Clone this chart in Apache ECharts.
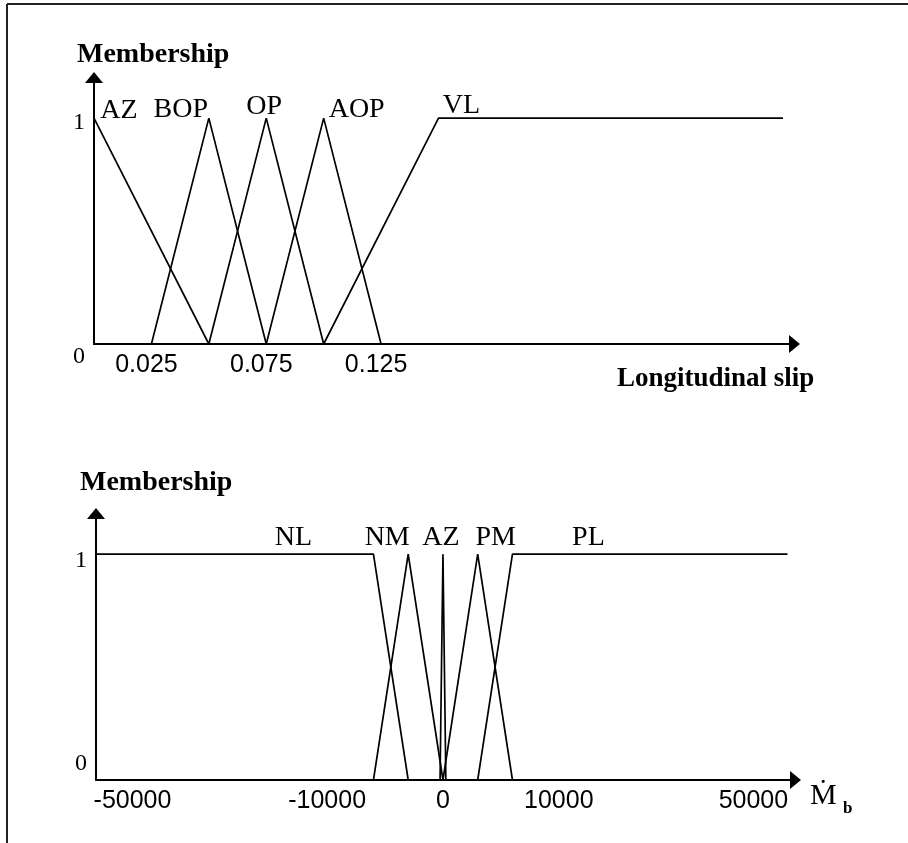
<!DOCTYPE html>
<html>
<head>
<meta charset="utf-8">
<script src="https://cdn.jsdelivr.net/npm/echarts@6/dist/echarts.min.js"></script>
<style>
  html, body { margin: 0; padding: 0; background: #fff; }
  #chart { width: 908px; height: 843px; }
</style>
</head>
<body>
<div id="chart"></div>
<script>
// upper plot: longitudinal slip fuzzy sets
const slipNames = ['AZ', 'BOP', 'OP', 'AOP', 'VL'];
const slipBreaks = [
  [0, 0.05],
  [0.025, 0.05, 0.075],
  [0.05, 0.075, 0.1],
  [0.075, 0.1, 0.125],
  [0.1, 0.15, 0.3]
];
const slipGrades = [
  [1, 0],
  [0, 1, 0],
  [0, 1, 0],
  [0, 1, 0],
  [0, 1, 1]
];
const slipTicks = [0.025, 0.075, 0.125];

// lower plot: braking moment rate fuzzy sets
const mbNames = ['NL', 'NM', 'AZ', 'PM', 'PL'];
const mbBreaks = [
  [-57500, -6000, -3000],
  [-6000, -3000, 0],
  [-250, 0, 250],
  [0, 3000, 6000],
  [3000, 6000, 57000]
];
const mbGrades = [
  [1, 1, 0],
  [0, 1, 0],
  [0, 1, 0],
  [0, 1, 0],
  [0, 1, 1]
];
const mbTicks = [-50000, -10000, 0, 10000, 50000];

const gradeTicks = [0, 1];

// where the set names sit relative to the middle point (px)
const slipNameShift = [[25, 7], [-28, 6], [-2, 3], [33, 6], [23, 2]];
const mbNameShift = [[-80, -2], [-21, -2], [-2, -2], [18, -2], [76, -2]];

// the drawing squeezes the axis beyond +-10000
const squeeze = 0.42;
function warp(v) {
  const a = Math.abs(v);
  return a <= 10000 ? v : Math.sign(v) * (10000 + (a - 10000) * squeeze);
}

const serif = '"Liberation Serif", "Times New Roman", serif';
const sans = '"Liberation Sans", Arial, sans-serif';

function makeSeries(names, breaks, grades, shifts, idx, mapX) {
  return names.map((name, i) => {
    const mid = grades[i].length > 2 ? 1 : 0;
    return {
      type: 'line',
      name: name,
      xAxisIndex: idx,
      yAxisIndex: idx,
      showSymbol: true,
      symbol: 'circle',
      symbolSize: 2,
      silent: true,
      animation: false,
      itemStyle: { color: 'rgba(0,0,0,0)', borderWidth: 0 },
      lineStyle: { color: '#000', width: 1.7 },
      data: breaks[i].map((x, j) => {
        const item = { value: [mapX(x), grades[i][j]] };
        if (j === mid) {
          item.label = {
            show: true,
            formatter: name,
            position: 'top',
            distance: 0,
            offset: shifts[i],
            fontFamily: serif,
            fontSize: 28,
            color: '#000'
          };
        }
        return item;
      })
    };
  });
}

function arrowLine() {
  return {
    show: true,
    onZero: false,
    symbol: ['none', 'triangle'],
    symbolSize: [18, 11],
    lineStyle: { color: '#000', width: 2 }
  };
}

function gradeAxis(idx, shiftOne, shiftZero) {
  const pad = s => (s >= 0 ? [2 * s, 0, 0, 0] : [0, 0, -2 * s, 0]);
  return {
    type: 'value',
    gridIndex: idx,
    min: 0,
    max: 1.18,
    axisLine: arrowLine(),
    axisTick: { show: false },
    splitLine: { show: false },
    axisLabel: {
      customValues: gradeTicks,
      margin: 9,
      color: '#000',
      fontFamily: serif,
      fontSize: 24,
      formatter: v => (v === 1 ? '{a|1}' : '{b|0}'),
      rich: {
        a: { fontFamily: serif, fontSize: 24, color: '#000', padding: pad(shiftOne) },
        b: { fontFamily: serif, fontSize: 24, color: '#000', padding: pad(shiftZero) }
      }
    }
  };
}

const titleFont = { fontFamily: serif, fontWeight: 'bold', fontSize: 28, color: '#000' };

const chart = echarts.init(document.getElementById('chart'));
const option = {
  backgroundColor: '#fff',
  animation: false,
  title: [
    { text: 'Membership', left: 77, top: 41, padding: 0, textStyle: titleFont },
    { text: 'Longitudinal slip', left: 617, top: 366, padding: 0, textStyle: Object.assign({}, titleFont, { fontSize: 27 }) },
    { text: 'Membership', left: 80, top: 469, padding: 0, textStyle: titleFont },
    { text: 'Ṁ', left: 810, top: 781, padding: 0, textStyle: { fontFamily: '"Liberation Serif", "DejaVu Serif", serif', fontSize: 30, fontWeight: 'normal', color: '#000' } },
    { text: 'b', left: 843, top: 800, padding: 0, textStyle: { fontFamily: serif, fontSize: 17, fontWeight: 'bold', color: '#000' } }
  ],
  graphic: [
    { type: 'line', shape: { x1: 7, y1: 4, x2: 908, y2: 4 }, style: { stroke: '#222', lineWidth: 2 } },
    { type: 'line', shape: { x1: 7, y1: 4, x2: 7, y2: 843 }, style: { stroke: '#222', lineWidth: 2 } }
  ],
  grid: [
    { left: 94, top: 77.5, width: 700.5, height: 266.5, outerBoundsMode: 'none' },
    { left: 96, top: 513.5, width: 699.5, height: 266.5, outerBoundsMode: 'none' }
  ],
  xAxis: [
    {
      type: 'value',
      gridIndex: 0,
      min: 0,
      max: 0.305,
      axisLine: arrowLine(),
      axisTick: { show: false },
      splitLine: { show: false },
      axisLabel: {
        customValues: slipTicks,
        margin: 9,
        color: '#000',
        fontFamily: sans,
        fontSize: 25,
        padding: [0, 10, 0, 0],
        formatter: v => String(v)
      }
    },
    {
      type: 'value',
      gridIndex: 1,
      min: warp(-57500),
      max: warp(58650),
      axisLine: arrowLine(),
      axisTick: { show: false },
      splitLine: { show: false },
      axisLabel: {
        customValues: mbTicks.map(warp),
        margin: 9,
        color: '#000',
        fontFamily: sans,
        fontSize: 25,
        formatter: v => {
          const t = mbTicks.find(k => Math.abs(warp(k) - v) < 1e-6);
          return t === undefined ? '' : String(t);
        }
      }
    }
  ],
  yAxis: [
    gradeAxis(0, 5, 13),
    gradeAxis(1, 7, -16)
  ],
  series: [].concat(
    makeSeries(slipNames, slipBreaks, slipGrades, slipNameShift, 0, x => x),
    makeSeries(mbNames, mbBreaks, mbGrades, mbNameShift, 1, warp)
  )
};
option && chart.setOption(option);
</script>
</body>
</html>
